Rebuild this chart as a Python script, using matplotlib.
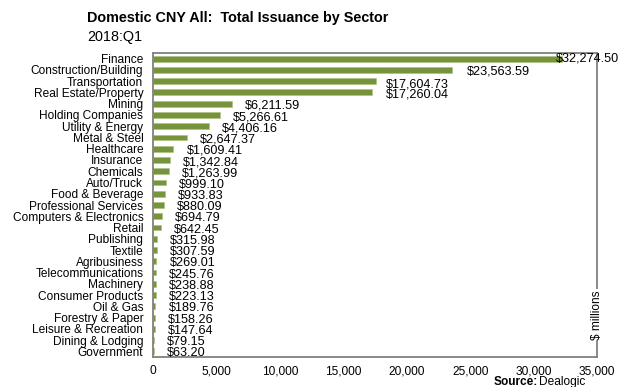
import matplotlib.pyplot as plt
import numpy as np

plt.rcParams['font.family'] = ['Liberation Sans', 'DejaVu Sans']

sectors = [
    'Finance', 'Construction/Building', 'Transportation', 'Real Estate/Property',
    'Mining', 'Holding Companies', 'Utility & Energy', 'Metal & Steel',
    'Healthcare', 'Insurance', 'Chemicals', 'Auto/Truck', 'Food & Beverage',
    'Professional Services', 'Computers & Electronics', 'Retail', 'Publishing',
    'Textile', 'Agribusiness', 'Telecommunications', 'Machinery',
    'Consumer Products', 'Oil & Gas', 'Forestry & Paper', 'Leisure & Recreation',
    'Dining & Lodging', 'Government',
]
issuance = [
    32274.50, 23563.59, 17604.73, 17260.04, 6211.59, 5266.61, 4406.16, 2647.37,
    1609.41, 1342.84, 1263.99, 999.10, 933.83, 880.09, 694.79, 642.45, 315.98,
    307.59, 269.01, 245.76, 238.88, 223.13, 189.76, 158.26, 147.64, 79.15, 63.20,
]
xticks = [0, 5000, 10000, 15000, 20000, 25000, 30000, 35000]

# label nudges in points (dx, dy); most sit just past the bar end
label_dx = [-4.5, 11, 7, 10] + [9.5] * 23
label_dy = [0, -1, -2.5, -1.5] + [-1.5] * 23

GREEN = '#77933c'
GREY = '#808080'
FS = 8.6

fig = plt.figure(figsize=(6.19, 3.87), dpi=100)
ax = fig.add_axes([153 / 619, 1 - 357 / 387, 444 / 619, 304 / 387])

y = np.arange(len(sectors))
ax.barh(y, issuance, height=0.52, color=GREEN, edgecolor='#a9c07a', linewidth=0.4)
ax.set_ylim(len(sectors) - 0.5, -0.5)
ax.set_xlim(0, 35000)

ax.set_yticks(y)
ax.set_yticklabels(sectors, fontsize=FS)
ax.set_xticks(xticks)
ax.set_xticklabels([f'{t:,}' for t in xticks], fontsize=FS)
ax.tick_params(axis='both', length=0, colors='black')
ax.tick_params(axis='y', pad=7)
ax.tick_params(axis='x', pad=6)

for s in ax.spines.values():
    s.set_color(GREY)
    s.set_linewidth(1.3)

for i, v in enumerate(issuance):
    ax.annotate(f'${v:,.2f}', (v, i), xytext=(label_dx[i], label_dy[i]),
                textcoords='offset points', ha='left', va='center',
                fontsize=9.1, annotation_clip=False)

ax.text(1.0, 0.138, '$ millions', transform=ax.transAxes, rotation=90,
        ha='center', va='center', fontsize=FS,
        bbox=dict(facecolor='white', edgecolor='none', pad=1.2))

fig.text(87 / 619, 1 - 18 / 387, 'Domestic CNY All:  Total Issuance by Sector',
         fontsize=10.4, fontweight='bold', ha='left', va='center')
fig.text(87 / 619, 1 - 37 / 387, '2018:Q1', fontsize=10.4, ha='left', va='center')

src = fig.text(494 / 619, 1 - 382 / 387, 'Source:', fontsize=FS,
               fontweight='bold', ha='left', va='center')
fig.canvas.draw()
bb = src.get_window_extent()
fig.text((bb.x1 + 1) / 619, 1 - 382 / 387, 'Dealogic', fontsize=FS,
         ha='left', va='center')

fig.savefig('out.png', dpi=100)
